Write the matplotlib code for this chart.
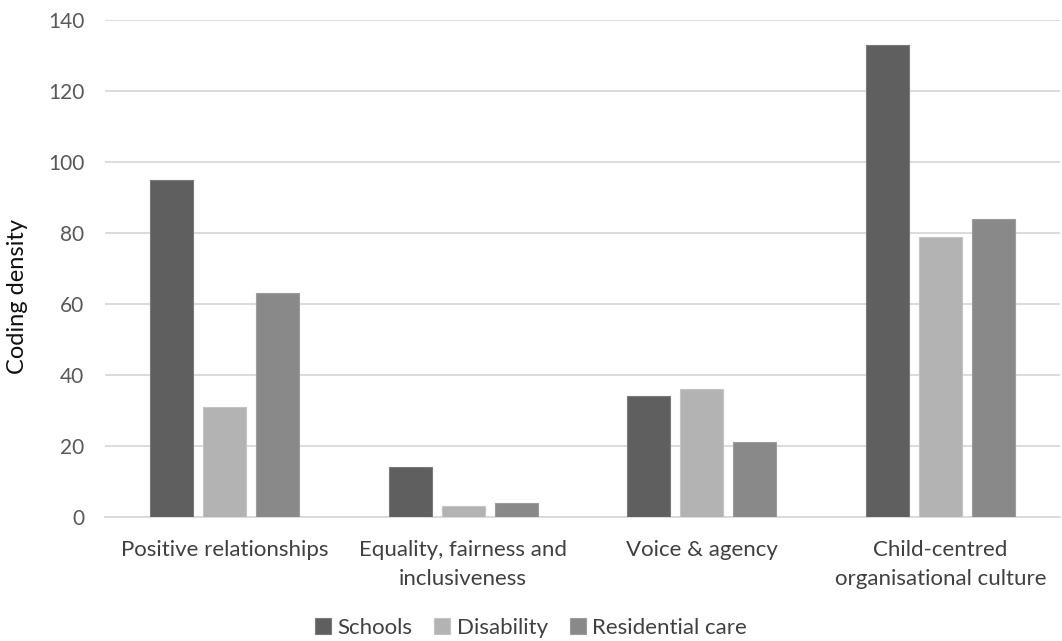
import matplotlib.pyplot as plt
import numpy as np

plt.rcParams['font.family'] = ['Lato', 'DejaVu Sans']

# Coding density per theme and setting
categories = ['Positive relationships', 'Equality, fairness and\ninclusiveness',
              'Voice & agency', 'Child-centred\norganisational culture']
schools = [95, 14, 34, 133]
disability = [31, 3, 36, 79]
residential = [63, 4, 21, 84]
series_names = ['Schools', 'Disability', 'Residential care']
y_ticks = [0, 20, 40, 60, 80, 100, 120, 140]

colors = ['#5f5f5f', '#b3b3b3', '#898989']
edges = ['#7a7a7a', '#c4c4c4', '#9c9c9c']

fig = plt.figure(figsize=(10.62, 6.41), dpi=100)
ax = fig.add_axes([105 / 1062, (641 - 517) / 641, 955 / 1062, 497 / 641])

x = np.arange(len(categories))
width = 0.18
step = 0.222
for i, (vals, name) in enumerate(zip([schools, disability, residential], series_names)):
    ax.bar(x + (i - 1) * step, vals, width, color=colors[i], edgecolor=edges[i],
           linewidth=0.8, label=name, zorder=3)

ax.set_xlim(-0.5, len(categories) - 0.5)
ax.set_ylim(0, 140)
ax.set_yticks(y_ticks)
ax.yaxis.grid(True, color='#d9d9d9', linewidth=1.3, zorder=0)
ax.set_axisbelow(True)

for side in ['top', 'right', 'left']:
    ax.spines[side].set_visible(False)
ax.spines['bottom'].set_color('#d9d9d9')
ax.spines['bottom'].set_linewidth(1.3)

ax.set_xticks(x)
ax.set_xticklabels(categories, fontsize=16, color='#404040', linespacing=1.55)
ax.tick_params(axis='both', length=0, labelcolor='#595959')
ax.tick_params(axis='y', labelsize=15, pad=15)
ax.tick_params(axis='x', labelsize=16, pad=16.5, labelcolor='#404040')
ax.set_ylabel('Coding density', fontsize=17, color='#111111')
ax.yaxis.set_label_coords(-77 / 955, 0.443)

fig.legend(loc='center', bbox_to_anchor=(0.5, (641 - 628) / 641),
           ncol=3, frameon=False, fontsize=16, handlelength=0.7, handleheight=0.7,
           handletextpad=0.3, columnspacing=1.0, labelcolor='#404040')

fig.savefig('out.png', dpi=100)
